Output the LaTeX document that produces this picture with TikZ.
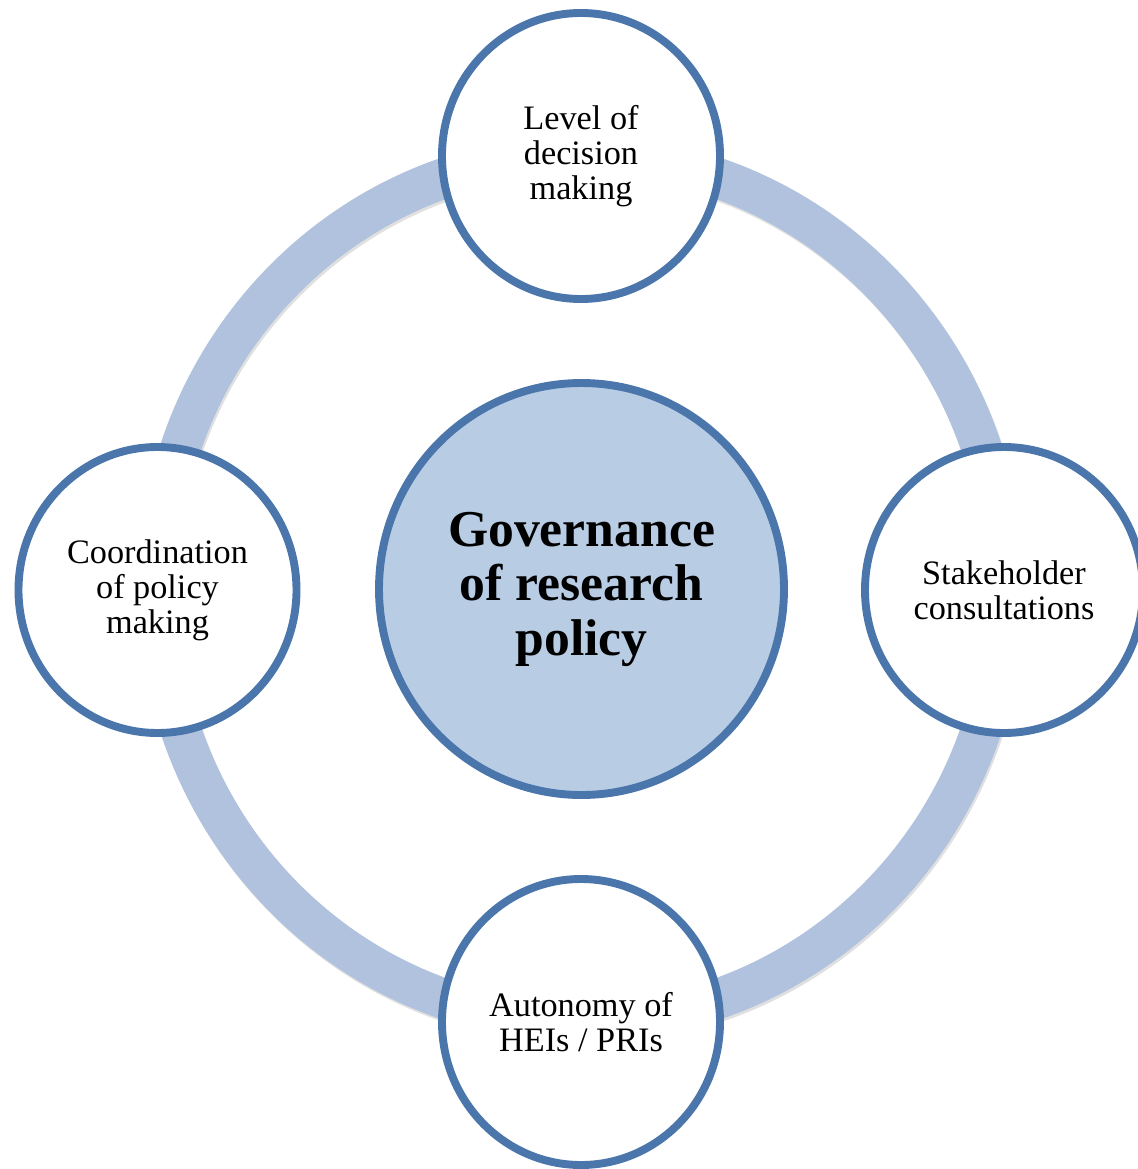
\documentclass[tikz,border=0pt]{standalone}
\usepackage{fontspec}
\setmainfont{Liberation Serif}
\definecolor{ringblue}{RGB}{176, 194, 221}
\definecolor{edgeblue}{RGB}{74, 118, 172}
\definecolor{corefill}{RGB}{184, 204, 228}
\usepackage{tikz}
\usetikzlibrary{shapes.geometric, shadows}

\begin{document}
\begin{tikzpicture}[
  topicbox/.style={ellipse, draw=edgeblue, line width=4.5pt, fill=white, minimum width=5.56cm, minimum height=5.72cm, align=center, inner sep=0pt, font=\fontsize{19.5}{20}\selectfont, drop shadow={shadow xshift=0.6pt, shadow yshift=-1.8pt, opacity=0.25, fill=black!70}},
  corebox/.style={ellipse, draw=edgeblue, line width=4.5pt, fill=corefill, minimum width=8.1cm, minimum height=8.24cm, align=center, inner sep=0pt, font=\bfseries\fontsize{29.4}{31}\selectfont, drop shadow={shadow xshift=0.6pt, shadow yshift=-1.8pt, opacity=0.25, fill=black!70}},
  ringline/.style={draw=ringblue, line width=23pt}
]
  \useasboundingbox (0, 0) rectangle (22.76, -23.38);

  % the ring behind the four topics
  \coordinate (mid) at (11.62, -11.77);
  \draw[black!30, line width=23pt, opacity=0.4] ([shift={(0.03,-0.05)}]mid) ellipse [x radius=8.465cm, y radius=8.67cm];
  \draw[ringline] (mid) ellipse [x radius=8.465cm, y radius=8.67cm];

  \node[corebox] (core) at (11.63, -11.78) {Governance\\of research\\policy};

  \node[topicbox] (level) at (11.62, -3.12) {Level of\\decision\\making};
  \node[topicbox] (stake) at (20.08, -11.8) {Stakeholder\\consultations};
  \node[topicbox] (auton) at (11.62, -20.44) {Autonomy of\\HEIs / PRIs};
  \node[topicbox] (coord) at (3.15, -11.8) {Coordination\\of policy\\making};
\end{tikzpicture}
\end{document}
